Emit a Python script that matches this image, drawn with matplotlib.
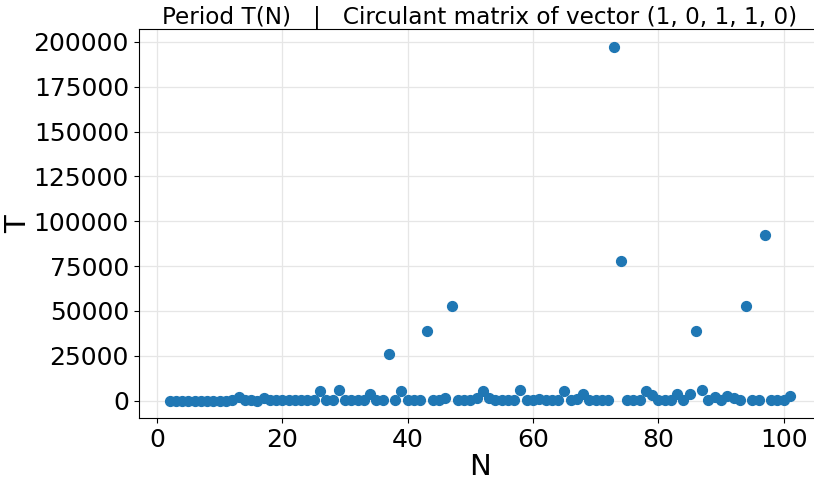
import numpy as np
import matplotlib
matplotlib.use("Agg")
import matplotlib.pyplot as plt

# N values 2..101 and the period
n_values = list(range(2, 102))
periods = [
    # 2-11
    3, 7, 6, 15, 9, 21, 14, 24, 30, 60,
    # 12-21
    90, 1840, 120, 110, 60, 1450, 170, 120, 180, 150,
    # 22-31
    210, 140, 260, 150, 5520, 130, 210, 5900, 300, 280,
    # 32-41
    310, 250, 3680, 170, 210, 26000, 250, 5520, 180, 330,
    # 42-51
    280, 38840, 420, 360, 1280, 52960, 300, 420, 380, 1400,
    # 52-61
    5520, 1280, 320, 410, 380, 360, 5900, 260, 420, 900,
    # 62-71
    340, 380, 420, 5400, 450, 700, 3680, 360, 420, 380,
    # 72-81
    400, 197300, 77900, 380, 420, 410, 5520, 3100, 380, 420,
    # 82-91
    300, 3500, 390, 3500, 38800, 5900, 420, 2000, 380, 2570,
    # 92-101
    1450, 400, 53000, 420, 450, 92400, 520, 410, 380, 2570,
]

title = "Period T(N)   |   Circulant matrix of vector (1, 0, 1, 1, 0)"
y_ticks = np.arange(0, 200001, 25000)
x_ticks = [0, 20, 40, 60, 80, 100]

fig = plt.figure(figsize=(8.14, 4.8), dpi=100)
ax = fig.add_axes([0.1703, 0.1285, 0.8382, 0.8111])

ax.scatter(n_values, periods, s=50, color="#1f77b4", zorder=3)

ax.set_xticks(x_ticks)
ax.set_yticks(y_ticks)
ax.grid(True, color="#e6e6e6", linewidth=0.9, zorder=0)
ax.tick_params(labelsize=18)
ax.set_xlabel("N", fontsize=21)
ax.set_ylabel("T", fontsize=21)
ax.xaxis.set_label_coords(0.5, -0.09)
ax.yaxis.set_label_coords(-0.156, 0.5)
ax.set_title(title, fontsize=16.7, pad=3)

fig.savefig("out.png", dpi=100)
